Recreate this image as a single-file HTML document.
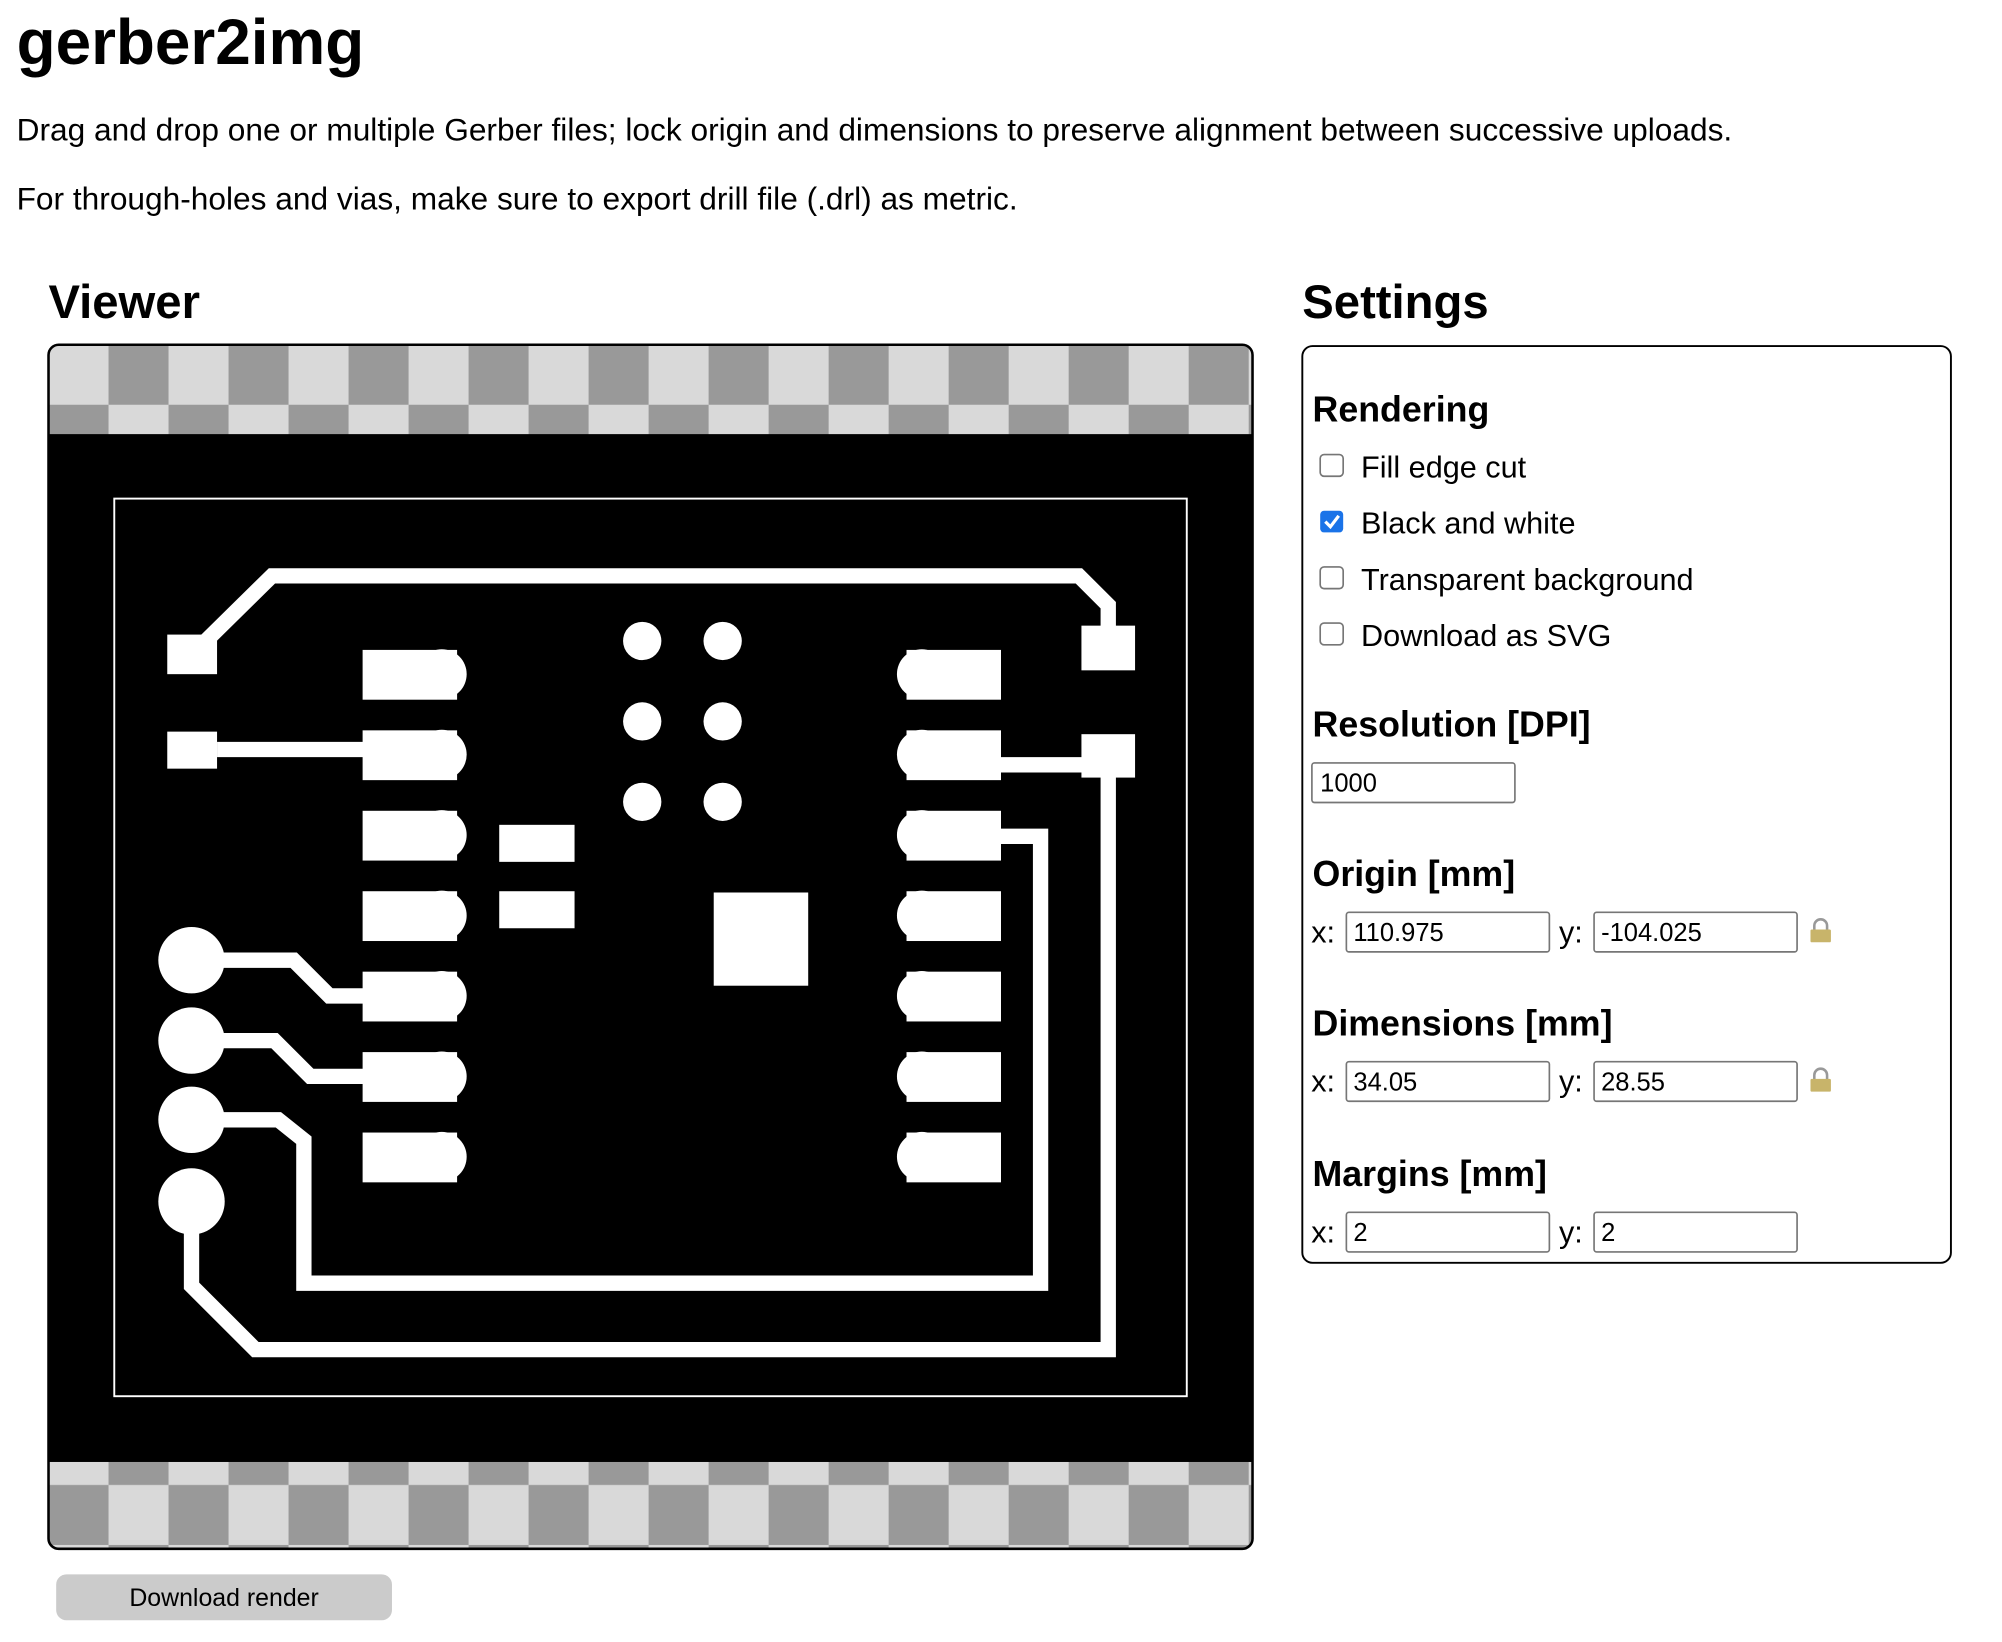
<!DOCTYPE html>
<html><head><meta charset="utf-8"><style>html,body{margin:0;padding:0;background:#fff}svg{display:block}</style></head>
<body>
<svg width="2002" height="1642" viewBox="0 0 1568 1286" preserveAspectRatio="none" xmlns="http://www.w3.org/2000/svg" font-family="Liberation Sans, Arial, sans-serif">
<defs>
<pattern id="chk" x="38" y="270" width="94" height="94" patternUnits="userSpaceOnUse">
<rect width="94" height="94" fill="#d9d9d9"/>
<rect x="47" y="0" width="47" height="47" fill="#999"/>
<rect x="0" y="47" width="47" height="47" fill="#999"/>
</pattern>
<clipPath id="vc"><rect x="38" y="270" width="943" height="943" rx="8"/></clipPath>
</defs>
<text x="13" y="50" font-size="50" font-weight="bold">gerber2img</text>
<text x="13" y="110" font-size="24.8">Drag and drop one or multiple Gerber files; lock origin and dimensions to preserve alignment between successive uploads.</text>
<text x="13" y="164" font-size="24.8">For through-holes and vias, make sure to export drill file (.drl) as metric.</text>
<text x="38" y="249" font-size="37" font-weight="bold">Viewer</text>
<text x="1020" y="249" font-size="37" font-weight="bold">Settings</text>

<g clip-path="url(#vc)">
<rect x="38" y="270" width="943" height="943" fill="url(#chk)"/>
<rect x="38" y="340" width="943" height="805" fill="#000"/>
</g>
<rect x="38" y="270" width="943" height="943" rx="8" fill="none" stroke="#000" stroke-width="2"/>
<rect x="89.5" y="390.5" width="840" height="703" fill="none" stroke="#fff" stroke-width="1.5"/>

<g fill="#fff">
<g fill="none" stroke="#fff" stroke-width="12" stroke-linejoin="miter">
<polyline points="150,513 213,451 845,451 868,474 868,507"/>
<polyline points="170,587 300,587"/>
<polyline points="784,599 868,599 868,1057 200,1057 150,1007 150,941"/>
<polyline points="784,655 815,655 815,1005 238,1005 238,893 218,877 150,877"/>
<polyline points="150,752 230,752 258,780 300,780"/>
<polyline points="150,815 215,815 243,843 300,843"/>
</g>
<rect x="131" y="497" width="39" height="31"/>
<rect x="131" y="573" width="39" height="29"/>
<rect x="847" y="490" width="42" height="35"/>
<rect x="847" y="575" width="42" height="34"/>
<circle cx="150" cy="752" r="26"/>
<circle cx="150" cy="815" r="26"/>
<circle cx="150" cy="877" r="26"/>
<circle cx="150" cy="941" r="26"/>
<g>
<rect x="284" y="509" width="74" height="39"/><circle cx="346" cy="528" r="19.5"/>
<rect x="284" y="572" width="74" height="39"/><circle cx="346" cy="591" r="19.5"/>
<rect x="284" y="635" width="74" height="39"/><circle cx="346" cy="654" r="19.5"/>
<rect x="284" y="698" width="74" height="39"/><circle cx="346" cy="717" r="19.5"/>
<rect x="284" y="761" width="74" height="39"/><circle cx="346" cy="780" r="19.5"/>
<rect x="284" y="824" width="74" height="39"/><circle cx="346" cy="843" r="19.5"/>
<rect x="284" y="887" width="74" height="39"/><circle cx="346" cy="906" r="19.5"/>
</g>
<g>
<rect x="710" y="509" width="74" height="39"/><circle cx="722" cy="528" r="19.5"/>
<rect x="710" y="572" width="74" height="39"/><circle cx="722" cy="591" r="19.5"/>
<rect x="710" y="635" width="74" height="39"/><circle cx="722" cy="654" r="19.5"/>
<rect x="710" y="698" width="74" height="39"/><circle cx="722" cy="717" r="19.5"/>
<rect x="710" y="761" width="74" height="39"/><circle cx="722" cy="780" r="19.5"/>
<rect x="710" y="824" width="74" height="39"/><circle cx="722" cy="843" r="19.5"/>
<rect x="710" y="887" width="74" height="39"/><circle cx="722" cy="906" r="19.5"/>
</g>
<rect x="391" y="646" width="59" height="29"/>
<rect x="391" y="698" width="59" height="29"/>
<circle cx="503" cy="502" r="15"/><circle cx="566" cy="502" r="15"/>
<circle cx="503" cy="565" r="15"/><circle cx="566" cy="565" r="15"/>
<circle cx="503" cy="628" r="15"/><circle cx="566" cy="628" r="15"/>
<rect x="559" y="699" width="74" height="73"/>
</g>

<rect x="44" y="1233" width="263" height="36" rx="8" fill="#cbcbcb"/>
<text x="175.5" y="1258" font-size="19.5" text-anchor="middle">Download render</text>

<rect x="1020" y="271" width="508" height="718" rx="8" fill="none" stroke="#000" stroke-width="1.5"/>
<g font-size="28" font-weight="bold">
<text x="1028" y="330">Rendering</text>
<text x="1028" y="577">Resolution [DPI]</text>
<text x="1028" y="694">Origin [mm]</text>
<text x="1028" y="811">Dimensions [mm]</text>
<text x="1028" y="929">Margins [mm]</text>
</g>
<g fill="none" stroke="#767676" stroke-width="1.3">
<rect x="1034" y="356" width="18" height="17" rx="3"/>
<rect x="1034" y="444" width="18" height="17" rx="3"/>
<rect x="1034" y="488" width="18" height="17" rx="3"/>
</g>
<rect x="1034" y="400" width="18" height="17" rx="3" fill="#1a73e8"/>
<polyline points="1038,408.5 1042,412.5 1048.5,404" fill="none" stroke="#fff" stroke-width="2.5"/>
<g font-size="24">
<text x="1066" y="374">Fill edge cut</text>
<text x="1066" y="418">Black and white</text>
<text x="1066" y="462">Transparent background</text>
<text x="1066" y="506">Download as SVG</text>
</g>
<g fill="#fff" stroke="#767676" stroke-width="1.3">
<rect x="1027.5" y="597.5" width="159" height="31" rx="2"/>
<rect x="1054.5" y="714.5" width="159" height="31" rx="2"/>
<rect x="1248.5" y="714.5" width="159" height="31" rx="2"/>
<rect x="1054.5" y="831.5" width="159" height="31" rx="2"/>
<rect x="1248.5" y="831.5" width="159" height="31" rx="2"/>
<rect x="1054.5" y="949.5" width="159" height="31" rx="2"/>
<rect x="1248.5" y="949.5" width="159" height="31" rx="2"/>
</g>
<g font-size="20">
<text x="1034" y="620">1000</text>
<text x="1060" y="737">110.975</text>
<text x="1254" y="737">-104.025</text>
<text x="1060" y="854">34.05</text>
<text x="1254" y="854">28.55</text>
<text x="1060" y="972">2</text>
<text x="1254" y="972">2</text>
</g>
<g font-size="24">
<text x="1027" y="738">x:</text><text x="1221" y="738">y:</text>
<text x="1027" y="855">x:</text><text x="1221" y="855">y:</text>
<text x="1027" y="973">x:</text><text x="1221" y="973">y:</text>
</g>
<g>
<path d="M1421,729 v-4 a5,5 0 0 1 10,0 v4" fill="none" stroke="#999" stroke-width="2"/>
<rect x="1418" y="728" width="16" height="10" rx="1" fill="#c8b46a"/>
<path d="M1421,846 v-4 a5,5 0 0 1 10,0 v4" fill="none" stroke="#999" stroke-width="2"/>
<rect x="1418" y="845" width="16" height="10" rx="1" fill="#c8b46a"/>
</g>
</svg>
</body></html>
